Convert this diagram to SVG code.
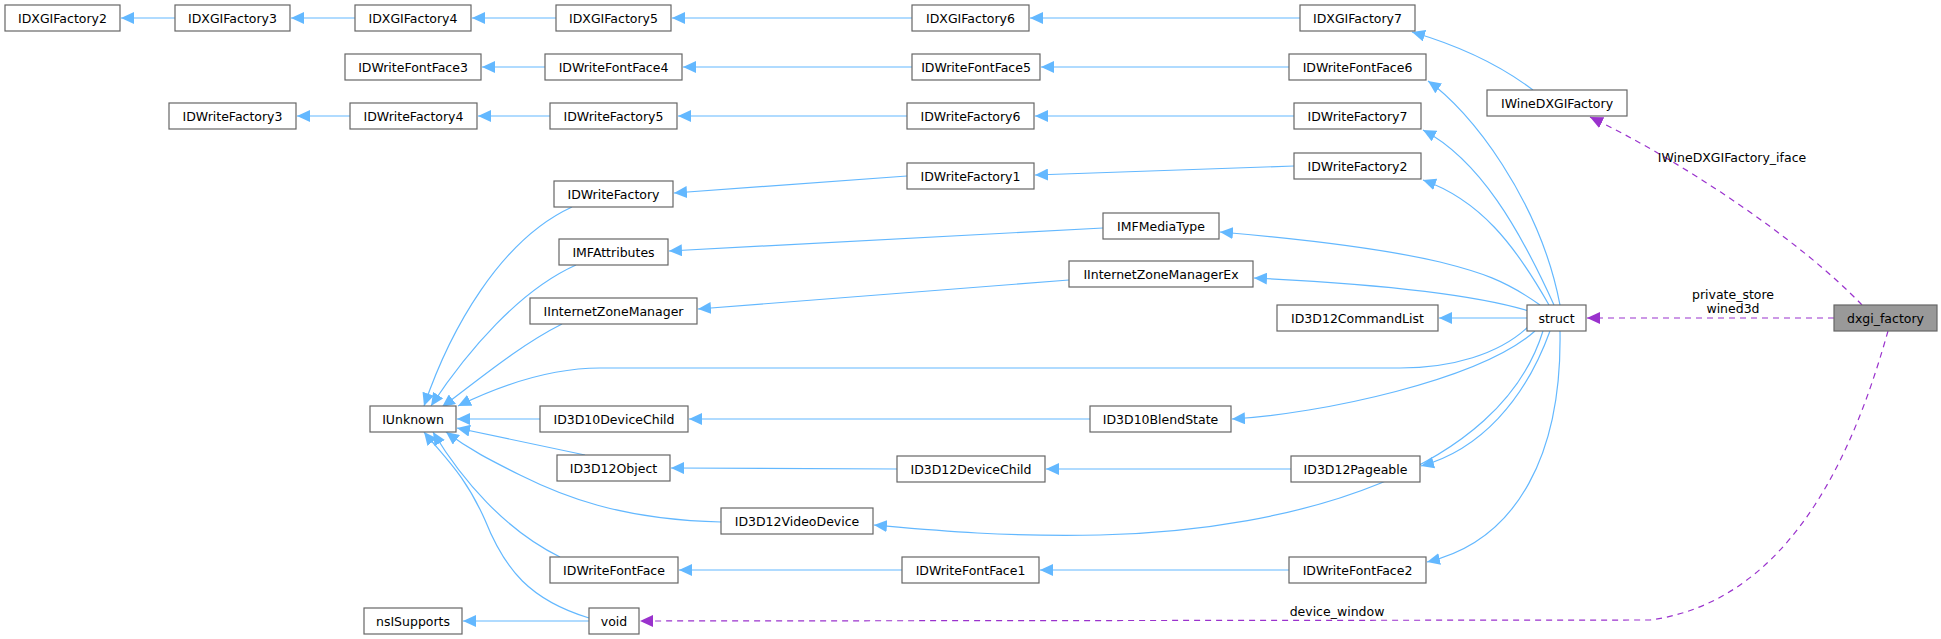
<svg xmlns="http://www.w3.org/2000/svg" width="1941" height="639" viewBox="0 0 1941 639">
<style>
.n rect{fill:#fff;stroke:#666;stroke-width:1.2}
.n text{font-family:"DejaVu Sans",sans-serif;font-size:12.5px;fill:#000;text-anchor:middle;dominant-baseline:central}
.e{fill:none;stroke:#63b8ff;stroke-width:1.2;marker-end:url(#b)}
.d{fill:none;stroke:#9a32cd;stroke-width:1.2;stroke-dasharray:6,5;marker-end:url(#p)}
.l{font-family:"DejaVu Sans",sans-serif;font-size:12.5px;text-anchor:middle}
</style>
<defs>
<marker id="b" markerUnits="userSpaceOnUse" markerWidth="14" markerHeight="12" refX="13" refY="6" orient="auto"><path d="M0,0 L13,6 L0,12 z" fill="#63b8ff"/></marker>
<marker id="p" markerUnits="userSpaceOnUse" markerWidth="14" markerHeight="12" refX="13" refY="6" orient="auto"><path d="M0,0 L13,6 L0,12 z" fill="#9a32cd"/></marker>
</defs>
<rect width="1941" height="639" fill="#fff"/>
<g id="edges">
<path class="e" d="M175,18 L121,18"/>
<path class="e" d="M355,18 L291,18"/>
<path class="e" d="M556,18 L472,18"/>
<path class="e" d="M912,18 L672,18"/>
<path class="e" d="M1300,18 L1030,18"/>
<path class="e" d="M545,67 L482,67"/>
<path class="e" d="M912,67 L683,67"/>
<path class="e" d="M1289,67 L1041,67"/>
<path class="e" d="M350,116 L297,116"/>
<path class="e" d="M550,116 L478,116"/>
<path class="e" d="M907,116 L678,116"/>
<path class="e" d="M1294,116 L1035,116"/>
<path class="e" d="M907,176 L674,193"/>
<path class="e" d="M1294,166 L1035,175"/>
<path class="e" d="M1103,228 L669,251"/>
<path class="e" d="M1069,280 L698,309"/>
<path class="e" d="M1533,90 C1500,65 1460,46 1412,32"/>
<path class="e" d="M1560,305 C1540,200 1470,110 1428,81"/>
<path class="e" d="M1554,305 C1520,230 1480,160 1423,130"/>
<path class="e" d="M1549,305 C1515,245 1480,200 1423,180"/>
<path class="e" d="M1540,305 C1505,280 1480,272 1440,262 C1380,248 1290,238 1220,232"/>
<path class="e" d="M1529,311 C1480,296 1400,285 1254,278"/>
<path class="e" d="M1527,318 L1439,318"/>
<path class="e" d="M1530,325 C1500,355 1450,368 1400,368 L600,368 C545,368 495,388 458,406"/>
<path class="e" d="M1535,331 C1480,380 1320,414 1232,419"/>
<path class="e" d="M1550,331 C1525,400 1480,450 1421,466"/>
<path class="e" d="M1543,331 C1500,470 1300,530 1100,535 C1000,537 930,530 874,525"/>
<path class="e" d="M1560,331 C1562,450 1520,540 1427,562"/>
<path class="e" d="M572,207 C500,240 450,330 424,406"/>
<path class="e" d="M576,265 C520,290 468,350 431,406"/>
<path class="e" d="M562,324 C520,345 478,380 442,407"/>
<path class="e" d="M540,419 L457,419"/>
<path class="e" d="M585,455 L457,428"/>
<path class="e" d="M721,522 C620,520 560,495 520,475 C490,460 470,450 446,432"/>
<path class="e" d="M560,557 C505,530 462,480 433,432"/>
<path class="e" d="M589,618 C530,600 505,570 485,520 C465,475 445,458 424,432"/>
<path class="e" d="M1090,419 L689,419"/>
<path class="e" d="M897,469 L671,468"/>
<path class="e" d="M1291,469 L1046,469"/>
<path class="e" d="M902,570 L679,570"/>
<path class="e" d="M1289,570 L1040,570"/>
<path class="e" d="M589,621 L463,621"/>
<path class="d" d="M1862,305 C1800,240 1680,160 1590,117"/>
<path class="d" d="M1834,318 L1587,318"/>
<path class="d" d="M1888,331 C1860,430 1800,600 1650,620 L640,621"/>
<text class="l" x="1732" y="162">IWineDXGIFactory_iface</text>
<text class="l" x="1733" y="299">private_store</text>
<text class="l" x="1733" y="313">wined3d</text>
<text class="l" x="1337" y="616">device_window</text>
</g>
<g id="IDXGIFactory2" class="n"><rect x="5" y="5" width="115" height="26"/><text x="62.5" y="18">IDXGIFactory2</text></g>
<g id="IDXGIFactory3" class="n"><rect x="175" y="5" width="115" height="26"/><text x="232.5" y="18">IDXGIFactory3</text></g>
<g id="IDXGIFactory4" class="n"><rect x="355" y="5" width="116" height="26"/><text x="413" y="18">IDXGIFactory4</text></g>
<g id="IDXGIFactory5" class="n"><rect x="556" y="5" width="115" height="26"/><text x="613.5" y="18">IDXGIFactory5</text></g>
<g id="IDXGIFactory6" class="n"><rect x="912" y="5" width="117" height="26"/><text x="970.5" y="18">IDXGIFactory6</text></g>
<g id="IDXGIFactory7" class="n"><rect x="1300" y="5" width="115" height="26"/><text x="1357.5" y="18">IDXGIFactory7</text></g>
<g id="IDWriteFontFace3" class="n"><rect x="345" y="54" width="136" height="26"/><text x="413" y="67">IDWriteFontFace3</text></g>
<g id="IDWriteFontFace4" class="n"><rect x="545" y="54" width="137" height="26"/><text x="613.5" y="67">IDWriteFontFace4</text></g>
<g id="IDWriteFontFace5" class="n"><rect x="912" y="54" width="128" height="26"/><text x="976" y="67">IDWriteFontFace5</text></g>
<g id="IDWriteFontFace6" class="n"><rect x="1289" y="54" width="137" height="26"/><text x="1357.5" y="67">IDWriteFontFace6</text></g>
<g id="IWineDXGIFactory" class="n"><rect x="1487" y="90" width="140" height="26"/><text x="1557" y="103">IWineDXGIFactory</text></g>
<g id="IDWriteFactory3" class="n"><rect x="169" y="103" width="127" height="26"/><text x="232.5" y="116">IDWriteFactory3</text></g>
<g id="IDWriteFactory4" class="n"><rect x="350" y="103" width="127" height="26"/><text x="413.5" y="116">IDWriteFactory4</text></g>
<g id="IDWriteFactory5" class="n"><rect x="550" y="103" width="127" height="26"/><text x="613.5" y="116">IDWriteFactory5</text></g>
<g id="IDWriteFactory6" class="n"><rect x="907" y="103" width="127" height="26"/><text x="970.5" y="116">IDWriteFactory6</text></g>
<g id="IDWriteFactory7" class="n"><rect x="1294" y="103" width="127" height="26"/><text x="1357.5" y="116">IDWriteFactory7</text></g>
<g id="IDWriteFactory2" class="n"><rect x="1294" y="153" width="127" height="26"/><text x="1357.5" y="166">IDWriteFactory2</text></g>
<g id="IDWriteFactory1" class="n"><rect x="907" y="163" width="127" height="26"/><text x="970.5" y="176">IDWriteFactory1</text></g>
<g id="IDWriteFactory" class="n"><rect x="554" y="181" width="119" height="26"/><text x="613.5" y="194">IDWriteFactory</text></g>
<g id="IMFMediaType" class="n"><rect x="1103" y="213" width="116" height="26"/><text x="1161" y="226">IMFMediaType</text></g>
<g id="IMFAttributes" class="n"><rect x="559" y="239" width="109" height="26"/><text x="613.5" y="252">IMFAttributes</text></g>
<g id="IInternetZoneManagerEx" class="n"><rect x="1069" y="261" width="184" height="26"/><text x="1161" y="274">IInternetZoneManagerEx</text></g>
<g id="IInternetZoneManager" class="n"><rect x="530" y="298" width="167" height="26"/><text x="613.5" y="311">IInternetZoneManager</text></g>
<g id="ID3D12CommandList" class="n"><rect x="1277" y="305" width="161" height="26"/><text x="1357.5" y="318">ID3D12CommandList</text></g>
<g id="struct" class="n"><rect x="1527" y="305" width="59" height="26"/><text x="1556.5" y="318">struct</text></g>
<g id="dxgi_factory" class="n"><rect x="1834" y="305" width="103" height="26" style="fill:#999"/><text x="1885.5" y="318">dxgi_factory</text></g>
<g id="IUnknown" class="n"><rect x="370" y="406" width="86" height="26"/><text x="413" y="419">IUnknown</text></g>
<g id="ID3D10DeviceChild" class="n"><rect x="540" y="406" width="148" height="26"/><text x="614" y="419">ID3D10DeviceChild</text></g>
<g id="ID3D10BlendState" class="n"><rect x="1090" y="406" width="141" height="26"/><text x="1160.5" y="419">ID3D10BlendState</text></g>
<g id="ID3D12Object" class="n"><rect x="557" y="455" width="113" height="26"/><text x="613.5" y="468">ID3D12Object</text></g>
<g id="ID3D12DeviceChild" class="n"><rect x="897" y="456" width="148" height="26"/><text x="971" y="469">ID3D12DeviceChild</text></g>
<g id="ID3D12Pageable" class="n"><rect x="1291" y="456" width="129" height="26"/><text x="1355.5" y="469">ID3D12Pageable</text></g>
<g id="ID3D12VideoDevice" class="n"><rect x="721" y="508" width="152" height="26"/><text x="797" y="521">ID3D12VideoDevice</text></g>
<g id="IDWriteFontFace" class="n"><rect x="550" y="557" width="128" height="26"/><text x="614" y="570">IDWriteFontFace</text></g>
<g id="IDWriteFontFace1" class="n"><rect x="902" y="557" width="137" height="26"/><text x="970.5" y="570">IDWriteFontFace1</text></g>
<g id="IDWriteFontFace2" class="n"><rect x="1289" y="557" width="137" height="26"/><text x="1357.5" y="570">IDWriteFontFace2</text></g>
<g id="nsISupports" class="n"><rect x="364" y="608" width="98" height="26"/><text x="413" y="621">nsISupports</text></g>
<g id="void" class="n"><rect x="589" y="608" width="50" height="26"/><text x="614" y="621">void</text></g>
</svg>
